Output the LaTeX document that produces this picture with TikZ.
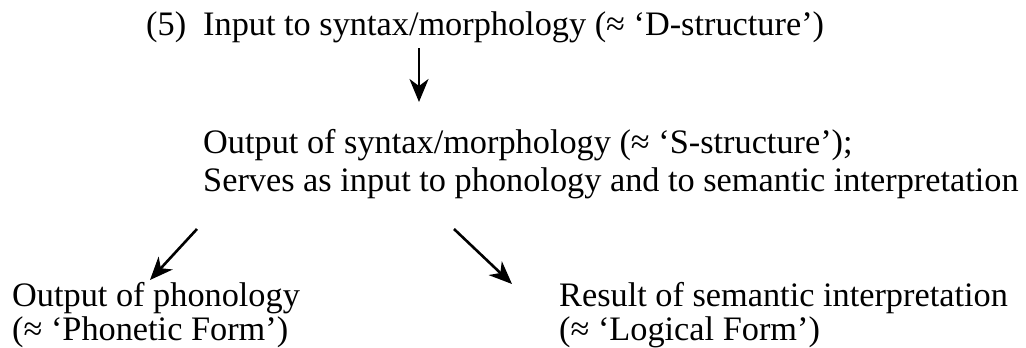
\documentclass[tikz,border=0pt]{standalone}
\usepackage{fontspec}
\setmainfont{Liberation Serif}
\usetikzlibrary{arrows.meta}
\begin{document}
\begin{tikzpicture}[x=1pt,y=-1pt,
  lbl/.style={anchor=base west,inner sep=0pt,font=\fontsize{34.3}{39}\selectfont},
  arr/.style={-{Stealth[length=23pt,width=19pt,inset=7pt]},line width=2.6pt}]
\useasboundingbox (0,0) rectangle (1026,348);
\node[lbl] (num) at (146,35) {(5)};
\node[lbl] (in) at (203,35) {Input to syntax/morphology (≈ ‘D-structure’)};
\node[lbl] (out1) at (203,153) {Output of syntax/morphology (≈ ‘S-structure’);};
\node[lbl] (out2) at (203,191) {Serves as input to phonology and to semantic interpretation};
\node[lbl] (ph1) at (12,306) {Output of phonology};
\node[lbl] (ph2) at (12,340) {(≈ ‘Phonetic Form’)};
\node[lbl] (se1) at (559,306) {Result of semantic interpretation};
\node[lbl] (se2) at (559,340) {(≈ ‘Logical Form’)};
\coordinate (a1s) at (419,48);
\coordinate (a1e) at (419,102);
\coordinate (a2s) at (197,229);
\coordinate (a2e) at (150,280);
\coordinate (a3s) at (454,229);
\coordinate (a3e) at (512,284);
\draw[arr] (a1s) -- (a1e);
\draw[arr] (a2s) -- (a2e);
\draw[arr] (a3s) -- (a3e);
\end{tikzpicture}
\end{document}
